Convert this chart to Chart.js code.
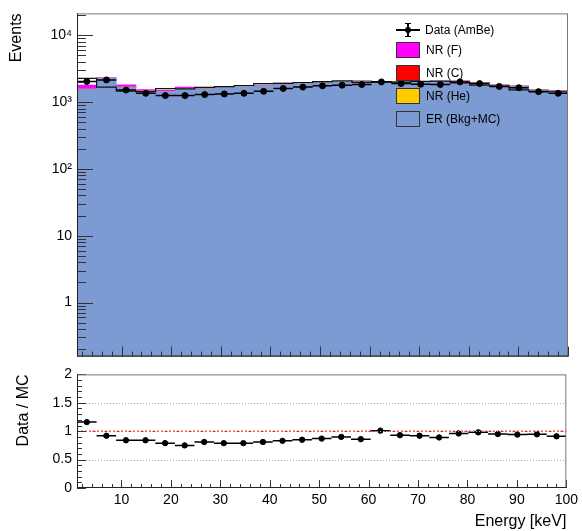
<!DOCTYPE html>
<html>
<head>
<meta charset="utf-8">
<script src="https://cdn.jsdelivr.net/npm/chart.js@4.4.0/dist/chart.umd.min.js"></script>
<style>
  body { margin: 0; background: #fff; width: 582px; height: 531px; position: relative; overflow: hidden;
         font-family: 'Liberation Sans', Arial, Helvetica, sans-serif; }
  #top { position: absolute; left: 0; top: 0; }
  #bottom { position: absolute; left: 0; top: 361px; }
  .row { position: absolute; left: 396px; height: 16px; line-height: 16px; font-size: 12px; color: #000; white-space: nowrap; }
  .box { display: inline-block; width: 22px; height: 14px; border: 1px solid #333; vertical-align: top; margin-right: 6px; }
  .sym { display: inline-block; position: relative; width: 24px; height: 16px; vertical-align: top; margin-right: 5px; }
  .sym i { position: absolute; background: #000; }
</style>
</head>
<body>
<canvas id="top" width="582" height="370"></canvas>
<canvas id="bottom" width="582" height="170"></canvas>

<div class="row" style="top:22px">
  <span class="sym">
    <i style="left:0;top:7px;width:24px;height:1.5px"></i>
    <i style="left:11px;top:1px;width:1.5px;height:14px"></i>
    <i style="left:9px;top:1px;width:6px;height:1px"></i>
    <i style="left:9px;top:14px;width:6px;height:1px"></i>
    <i style="left:9px;top:5px;width:6px;height:6px;border-radius:3px"></i>
  </span>Data (AmBe)
</div>
<div class="row" style="top:42px"><span class="box" style="background:#ff00ff"></span>NR (F)</div>
<div class="row" style="top:65px"><span class="box" style="background:#ff0000"></span>NR (C)</div>
<div class="row" style="top:88px"><span class="box" style="background:#ffcc00"></span>NR (He)</div>
<div class="row" style="top:111px"><span class="box" style="background:#7b9bd2"></span>ER (Bkg+MC)</div>

<script>
// binning: 25 bins between 1 and 100 keV
const binLow = 1;
const binHigh = 100;
const nBins = 25;

// events per bin
const dataAmBe = [2030, 2145, 1513, 1353, 1253, 1253, 1295, 1322, 1353, 1447, 1600, 1675, 1751,
                  1790, 1833, 2006, 1893, 1849, 1833, 2006, 1893, 1713, 1638, 1433, 1353];
const erBkgMC  = [1560, 2270, 1670, 1460, 1430, 1585, 1580, 1665, 1705, 1770, 1895, 1910, 1965,
                  2025, 2080, 1975, 2020, 1995, 2045, 2060, 1945, 1800, 1740, 1522, 1453];
const nrHe     = [2, 2, 2, 2, 2, 2, 1, 1, 1, 1, 1, 1, 1, 1, 1, 1, 1, 1, 1, 1, 1, 1, 1, 1, 1];
const nrC      = [6, 5, 5, 4, 4, 4, 3, 3, 3, 3, 3, 3, 3, 3, 3, 3, 3, 2, 2, 2, 2, 2, 2, 2, 2];
const nrF      = [225, 30, 140, 70, 65, 90, 20, 25, 25, 20, 20, 20, 20, 20, 20, 15, 15, 15, 15, 15, 15, 12, 12, 10, 10];

// data / MC per bin
const ratio = [1.16, 0.92, 0.84, 0.84, 0.79, 0.75, 0.81, 0.79, 0.79, 0.81, 0.83, 0.85, 0.87,
               0.90, 0.86, 1.01, 0.93, 0.92, 0.89, 0.96, 0.98, 0.95, 0.94, 0.945, 0.91];

// tick labels
const logTickValues = [1, 10, 100, 1000, 10000];
const logTickLabels = ['1', '10', '10²', '10³', '10⁴'];
const energyTicks = [10, 20, 30, 40, 50, 60, 70, 80, 90, 100];
const ratioTicks = [0, 0.5, 1, 1.5, 2];
const ratioTickLabels = ['0', '0.5', '1', '1.5', '2'];
const ratioGrid = [0.5, 1, 1.5];

const binWidth = (binHigh - binLow) / nBins;
const edges = [];
for (let i = 0; i <= nBins; i++) edges.push(binLow + i * binWidth);
const centers = edges.slice(0, nBins).map(e => e + binWidth / 2);

const blue = '#7b9bd2';
Chart.defaults.font.family = "'Liberation Sans', Arial, Helvetica, sans-serif";
Chart.defaults.color = '#000';

function points(vals) {
    return vals.map((v, i) => ({ x: centers[i], y: v }));
}
// horizontal bar across each bin, gaps between bins
function binSegments(vals) {
    const out = [];
    vals.forEach((v, i) => {
        out.push({ x: edges[i], y: v });
        out.push({ x: edges[i + 1], y: v });
        out.push({ x: edges[i + 1], y: null });
    });
    return out;
}
// step outline of a histogram
function stepPoints(vals) {
    const out = vals.map((v, i) => ({ x: edges[i], y: v }));
    out.push({ x: edges[nBins], y: vals[nBins - 1] });
    return out;
}

const xMinor = [];
for (let v = 2; v < 100; v += 2) if (v % 10 !== 0) xMinor.push(v);
const logMinor = [];
[0.1, 1, 10, 100, 1000, 10000].forEach(d => { for (let k = 2; k <= 9; k++) logMinor.push(d * k); });
const ratioMinor = [];
for (let k = 1; k < 20; k++) if (k % 5 !== 0) ratioMinor.push(k / 10);

// ROOT style frame with ticks pointing inwards
const rootAxes = {
    id: 'rootAxes',
    afterDatasetsDraw(chart, args, opts) {
        const { ctx, chartArea: a, scales } = chart;
        const xs = scales.x, ys = scales.y;
        ctx.save();
        ctx.lineWidth = 1;
        if (opts.grid) {
            ctx.strokeStyle = '#aaa';
            ctx.setLineDash([1, 2]);
            opts.grid.forEach(v => {
                const py = Math.round(ys.getPixelForValue(v)) + 0.5;
                ctx.beginPath(); ctx.moveTo(a.left, py); ctx.lineTo(a.right, py); ctx.stroke();
            });
            ctx.setLineDash([]);
        }
        ctx.strokeStyle = '#333';
        const tickX = (list, len) => list.forEach(v => {
            if (v < xs.min || v > xs.max) return;
            const px = Math.round(xs.getPixelForValue(v)) + 0.5;
            ctx.beginPath(); ctx.moveTo(px, a.bottom); ctx.lineTo(px, a.bottom - len); ctx.stroke();
        });
        const tickY = (list, len) => list.forEach(v => {
            if (v < ys.min || v > ys.max) return;
            const py = Math.round(ys.getPixelForValue(v)) + 0.5;
            ctx.beginPath(); ctx.moveTo(a.left, py); ctx.lineTo(a.left + len, py); ctx.stroke();
        });
        tickX(opts.xMajor, opts.xMajorLen);
        tickX(opts.xMinor, opts.xMinorLen);
        tickY(opts.yMajor, opts.yMajorLen);
        tickY(opts.yMinor, opts.yMinorLen);
        ctx.strokeStyle = '#777';
        ctx.strokeRect(a.left + 0.5, a.top + 0.5, a.right - a.left - 1, a.bottom - a.top - 1);
        ctx.strokeStyle = '#222';
        ctx.beginPath();
        ctx.moveTo(a.left + 0.5, a.top); ctx.lineTo(a.left + 0.5, a.bottom);
        ctx.moveTo(a.left, a.bottom - 0.5); ctx.lineTo(a.right, a.bottom - 0.5);
        ctx.stroke();
        ctx.restore();
    }
};

const barStyle = { categoryPercentage: 1, barPercentage: 1, borderWidth: 0, order: 3 };

new Chart(document.getElementById('top'), {
    type: 'bar',
    plugins: [rootAxes],
    data: {
        datasets: [
            { ...barStyle, label: 'ER (Bkg+MC)', data: points(erBkgMC), backgroundColor: blue },
            { ...barStyle, label: 'NR (He)', data: points(nrHe), backgroundColor: '#ffcc00' },
            { ...barStyle, label: 'NR (C)', data: points(nrC), backgroundColor: '#ff0000' },
            { ...barStyle, label: 'NR (F)', data: points(nrF), backgroundColor: '#ff00ff' },
            { type: 'line', stack: 'outline', data: stepPoints(erBkgMC), stepped: 'after',
              borderColor: '#111', borderWidth: 1.2, pointRadius: 0, order: 2 },
            { type: 'line', stack: 'dataBins', data: binSegments(dataAmBe), borderColor: '#000',
              borderWidth: 1.5, pointRadius: 0, spanGaps: false, order: 1 },
            { type: 'scatter', stack: 'dataPts', label: 'Data (AmBe)', data: points(dataAmBe),
              pointRadius: 3, backgroundColor: '#000', borderColor: '#000', order: 0 }
        ]
    },
    options: {
        responsive: false,
        animation: false,
        devicePixelRatio: 1,
        layout: { padding: { top: 9, right: 14, bottom: 9, left: 0 } },
        plugins: {
            legend: { display: false },
            tooltip: { enabled: false },
            rootAxes: {
                xMajor: energyTicks, xMinor: xMinor, xMajorLen: 10, xMinorLen: 5,
                yMajor: logTickValues, yMinor: logMinor, yMajorLen: 16, yMinorLen: 9
            }
        },
        scales: {
            x: { type: 'linear', min: binLow, max: binHigh, offset: false, display: false, stacked: true,
                 grid: { offset: false } },
            y: {
                type: 'logarithmic', stacked: true, min: 0.155, max: 21250,
                afterFit: s => { s.width = 77; },
                afterBuildTicks: s => { s.ticks = logTickValues.map(v => ({ value: v })); },
                ticks: { callback: (v, i) => logTickLabels[i], font: { size: 14 }, padding: 5, color: '#000' },
                grid: { display: false, drawTicks: false },
                border: { display: false },
                title: { display: true, text: 'Events', align: 'end', font: { size: 16 }, color: '#000',
                         padding: { top: 7, bottom: 0 } }
            }
        }
    }
});

new Chart(document.getElementById('bottom'), {
    type: 'scatter',
    plugins: [rootAxes],
    data: {
        datasets: [
            { type: 'line', data: [{ x: binLow, y: 1 }, { x: binHigh, y: 1 }], borderColor: '#ff0000',
              borderDash: [2, 2], borderWidth: 1.2, pointRadius: 0, order: 2 },
            { type: 'line', data: binSegments(ratio), borderColor: '#000', borderWidth: 1.5,
              pointRadius: 0, spanGaps: false, order: 1 },
            { type: 'scatter', data: points(ratio), pointRadius: 2.7, backgroundColor: '#000',
              borderColor: '#000', order: 0 }
        ]
    },
    options: {
        responsive: false,
        animation: false,
        devicePixelRatio: 1,
        layout: { padding: { top: 12, right: 14, bottom: 0, left: 0 } },
        plugins: {
            legend: { display: false },
            tooltip: { enabled: false },
            rootAxes: {
                grid: ratioGrid,
                xMajor: energyTicks, xMinor: xMinor, xMajorLen: 8, xMinorLen: 4,
                yMajor: ratioTicks, yMinor: ratioMinor, yMajorLen: 9, yMinorLen: 5
            }
        },
        scales: {
            x: {
                type: 'linear', min: binLow, max: binHigh,
                afterFit: s => { s.height = 43; },
                afterBuildTicks: s => { s.ticks = energyTicks.map(v => ({ value: v })); },
                ticks: { font: { size: 14 }, padding: 4, color: '#000', maxRotation: 0 },
                grid: { display: false, drawTicks: false },
                border: { display: false },
                title: { display: true, text: 'Energy [keV]', align: 'end', font: { size: 16 }, color: '#000',
                         padding: 0 }
            },
            y: {
                min: 0, max: 2,
                afterFit: s => { s.width = 77; },
                afterBuildTicks: s => { s.ticks = ratioTicks.map(v => ({ value: v })); },
                ticks: { callback: (v, i) => ratioTickLabels[i], font: { size: 14 }, padding: 5, color: '#000' },
                grid: { display: false, drawTicks: false },
                border: { display: false },
                title: { display: true, text: 'Data / MC', align: 'end', font: { size: 16 }, color: '#000',
                         padding: { top: 14, bottom: 0 } }
            }
        }
    }
});
</script>
</body>
</html>
